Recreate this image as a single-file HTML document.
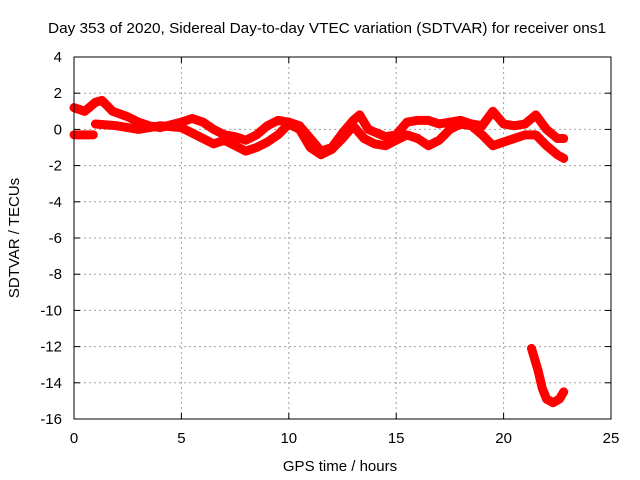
<!DOCTYPE html>
<html><head><meta charset="utf-8"><style>
body{margin:0;background:#fff}
svg{display:block;font-family:"Liberation Sans",sans-serif;font-size:15px}
</style></head><body>
<svg id="chart" width="640" height="480">
<text x="327" y="33" text-anchor="middle" textLength="558" lengthAdjust="spacingAndGlyphs">Day 353 of 2020, Sidereal Day-to-day VTEC variation (SDTVAR) for receiver ons1</text>
<g id="grid"></g><g id="ticks"></g><g id="marks"></g>
<rect x="74" y="57" width="537" height="362" fill="none" stroke="#000" stroke-width="1"/>
<text x="340" y="471" text-anchor="middle">GPS time / hours</text>
<text transform="translate(19,238) rotate(-90)" text-anchor="middle">SDTVAR / TECUs</text>
</svg>
<script>
const xTicks=[0,5,10,15,20,25];
const yTicks=[4,2,0,-2,-4,-6,-8,-10,-12,-14,-16];
const upperX=[0,0.5,1.0,1.3,1.8,2.5,3,3.5,4,5,5.5,6,6.5,7,7.5,8,8.5,9,9.5,10,10.5,11,11.5,12,12.5,13,13.3,13.7,14.5,15,15.5,16,16.5,17,17.5,18,18.5,19,19.5,20,20.5,21,21.5,22,22.5,22.8];
const upperY=[1.2,1.0,1.5,1.6,1.0,0.7,0.4,0.2,0.1,0.4,0.6,0.4,0,-0.3,-0.4,-0.6,-0.3,0.2,0.5,0.4,0.2,-0.5,-1.2,-1.0,-0.2,0.5,0.8,0,-0.4,-0.3,0.4,0.5,0.5,0.3,0.4,0.5,0.3,0.2,1.0,0.3,0.2,0.3,0.8,0,-0.5,-0.5];
const earlyX=[0,0.4,0.9];
const earlyY=[-0.3,-0.3,-0.3];
const lowerX=[1.0,2,3,4,5,6,6.5,7,8,8.5,9,9.5,10,10.5,11,11.5,12,12.5,13,13.5,14,14.5,15,15.5,16,16.5,17,17.5,18,18.5,19,19.5,20,20.5,21,21.5,22,22.5,22.8];
const lowerY=[0.3,0.2,0.0,0.2,0.1,-0.5,-0.8,-0.6,-1.2,-1.0,-0.7,-0.3,0.3,0,-1.0,-1.4,-1.1,-0.5,0.2,-0.5,-0.8,-0.9,-0.6,-0.3,-0.5,-0.9,-0.6,0,0.3,0.2,-0.3,-0.9,-0.7,-0.5,-0.3,-0.3,-0.9,-1.4,-1.6];
const dropX=[21.3,21.6,21.8,22.0,22.3,22.6,22.8];
const dropY=[-12.1,-13.3,-14.3,-14.9,-15.1,-14.9,-14.5];
const NS="http://www.w3.org/2000/svg";
const X0=74,X1=611,Y0=419,Y1=57;
const sx=v=>X0+(v-0)/25*(X1-X0);
const sy=v=>Y0-(v+16)/20*(Y0-Y1);
function mk(tag,attrs,parent){const e=document.createElementNS(NS,tag);for(const k in attrs)e.setAttribute(k,attrs[k]);parent.appendChild(e);return e;}
const grid=document.getElementById('grid'),ticks=document.getElementById('ticks'),marks=document.getElementById('marks');
xTicks.forEach(t=>{const x=sx(t);
 if(t>0&&t<25){const g=mk('line',{x1:x,x2:x,y1:Y1,y2:Y0,stroke:'#a0a0a0','stroke-dasharray':'2,3'},grid);
 
 }
 mk('line',{x1:x,x2:x,y1:Y0,y2:Y0-6,stroke:'#000'},ticks);mk('line',{x1:x,x2:x,y1:Y1,y2:Y1+6,stroke:'#000'},ticks);
 const tx=mk('text',{x:x,y:443,'text-anchor':'middle'},ticks);tx.textContent=t;
 
 });
yTicks.forEach(t=>{const y=sy(t);
 if(t>-16&&t<4){const g=mk('line',{x1:X0,x2:X1,y1:y,y2:y,stroke:'#a0a0a0','stroke-dasharray':'2,3'},grid);
 
 }
 mk('line',{x1:X0,x2:X0+6,y1:y,y2:y,stroke:'#000'},ticks);mk('line',{x1:X1,x2:X1-6,y1:y,y2:y,stroke:'#000'},ticks);
 const tx=mk('text',{x:62,y:y+5,'text-anchor':'end'},ticks);tx.textContent=t;
 
 });
function series(xs,ys,name){
 const pts=xs.map((x,i)=>sx(x)+','+sy(ys[i])).join(' ');
 const p=mk('polyline',{points:pts,fill:'none',stroke:'#ff0000','stroke-width':9,'stroke-linejoin':'round','stroke-linecap':'round'},marks);
 
 
 xs.forEach((x,i)=>{const cx=sx(x),cy=sy(ys[i]);
  const m=mk('path',{d:`M${cx-4},${cy}h8M${cx},${cy-4}v8`,stroke:'#ff0000','stroke-width':2},marks);
  
  });
}
series(upperX,upperY,'upper-track');
series(earlyX,earlyY,'early-track');
series(lowerX,lowerY,'lower-track');
series(dropX,dropY,'drop-track');
</script>
</body></html>
